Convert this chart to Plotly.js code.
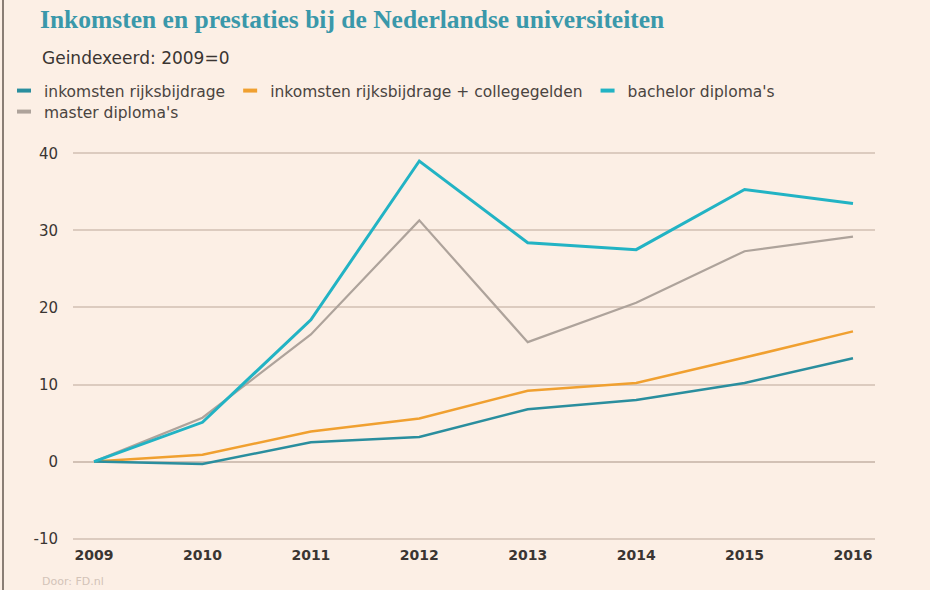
<!DOCTYPE html>
<html>
<head>
<meta charset="utf-8">
<script src="https://cdn.plot.ly/plotly-3.0.1.min.js"></script>
<style>
  html, body { margin: 0; padding: 0; background: #fcefe5; }
  #chart { width: 930px; height: 590px; }
</style>
</head>
<body>
<div id="chart"></div>
<script>
// ---- data ----
const years = [2009, 2010, 2011, 2012, 2013, 2014, 2015, 2016];
const rijksbijdrage = [0, -0.3, 2.5, 3.2, 6.8, 8.0, 10.2, 13.4];
const rijksPlusCollege = [0, 0.9, 3.9, 5.6, 9.2, 10.2, 13.5, 16.9];
const bachelor = [0, 5.1, 18.4, 39.0, 28.4, 27.5, 35.3, 33.5];
const master = [0, 5.7, 16.5, 31.3, 15.5, 20.6, 27.3, 29.2];
const seriesNames = ["inkomsten rijksbijdrage", "inkomsten rijksbijdrage + collegegelden", "bachelor diploma's", "master diploma's"];
const yTicks = [-10, 0, 10, 20, 30, 40];

const colors = ["#2a8e9e", "#f0a030", "#22b3c4", "#aea39b"];
const widths = [2.5, 2.5, 3, 2.2];
const seriesData = [rijksbijdrage, rijksPlusCollege, bachelor, master];
const order = [3, 1, 0, 2]; // drawing order (bachelor on top)

const traces = [];
order.forEach(i => {
  traces.push({
    x: years, y: seriesData[i], type: 'scatter', mode: 'lines',
    name: seriesNames[i], showlegend: false,
    line: {color: colors[i], width: widths[i]},
    hoverinfo: 'x+y+name'
  });
});
// legend entries (short dash marks)
seriesNames.forEach((n, i) => {
  traces.push({
    x: [null], y: [null], type: 'scatter', mode: 'markers', name: n,
    legend: i < 3 ? 'legend' : 'legend2',
    marker: {symbol: 'line-ew-open', size: 10, color: colors[i], line: {color: colors[i], width: 4}},
    hoverinfo: 'skip'
  });
});

const sans = '"DejaVu Sans", sans-serif';
const legendFont = {family: sans, size: 15.5, color: '#4a4440'};

const layout = {
  width: 930, height: 590,
  paper_bgcolor: '#fcefe5', plot_bgcolor: '#fcefe5',
  margin: {l: 73, r: 55, t: 151, b: 49},
  title: {
    text: '<b>Inkomsten en prestaties bij de Nederlandse universiteiten</b>',
    font: {family: '"Liberation Serif", serif', size: 25.5, color: '#3a98aa'},
    x: 40/930, xanchor: 'left', xref: 'container',
    y: 1 - 19/590, yanchor: 'middle', yref: 'container'
  },
  xaxis: {
    range: [2008.806, 2016.203],
    tickvals: years, ticktext: years.map(String),
    showgrid: false, zeroline: false, showline: false,
    ticks: '', ticklabelstandoff: 4,
    tickfont: {family: sans, size: 14, color: '#3a3532', weight: 'bold'},
    fixedrange: true
  },
  yaxis: {
    range: [-10.3, 40.3],
    tickvals: yTicks, ticktext: yTicks.map(String),
    showgrid: true, gridcolor: '#dccbbf', gridwidth: 2,
    zeroline: true, zerolinecolor: '#d2c1b5', zerolinewidth: 2,
    showline: false, ticks: '', ticklabelstandoff: 14,
    tickfont: {family: sans, size: 15, color: '#3a3532'},
    fixedrange: true
  },
  legend: {
    orientation: 'h', xref: 'container', yref: 'container',
    x: 4/930, xanchor: 'left', y: 1 - 74/590, yanchor: 'top',
    font: legendFont, bgcolor: 'rgba(0,0,0,0)', itemwidth: 30,
    itemclick: false, itemdoubleclick: false
  },
  legend2: {
    orientation: 'h', xref: 'container', yref: 'container',
    x: 4/930, xanchor: 'left', y: 1 - 95/590, yanchor: 'top',
    font: legendFont, bgcolor: 'rgba(0,0,0,0)', itemwidth: 30,
    itemclick: false, itemdoubleclick: false
  },
  annotations: [
    {
      text: 'Geindexeerd: 2009=0', xref: 'paper', yref: 'paper',
      x: (40-73)/802, xanchor: 'left', y: 1 + (151-58)/388, yanchor: 'middle',
      showarrow: false, font: {family: sans, size: 17, color: '#3a3532'}
    },
    {
      text: 'Door: FD.nl', xref: 'paper', yref: 'paper',
      x: (40-73)/802, xanchor: 'left', y: -(579-539)/388, yanchor: 'middle',
      showarrow: false, font: {family: sans, size: 11, color: '#d3c3b8'}
    }
  ],
  shapes: [
    {type: 'line', xref: 'paper', yref: 'paper',
     x0: (3-73)/802, x1: (3-73)/802, y0: -49/388, y1: 1 + 151/388,
     line: {color: '#8a7e75', width: 2}}
  ],
  hovermode: 'closest'
};

Plotly.newPlot('chart', traces, layout, {displayModeBar: false});
</script>
</body>
</html>
